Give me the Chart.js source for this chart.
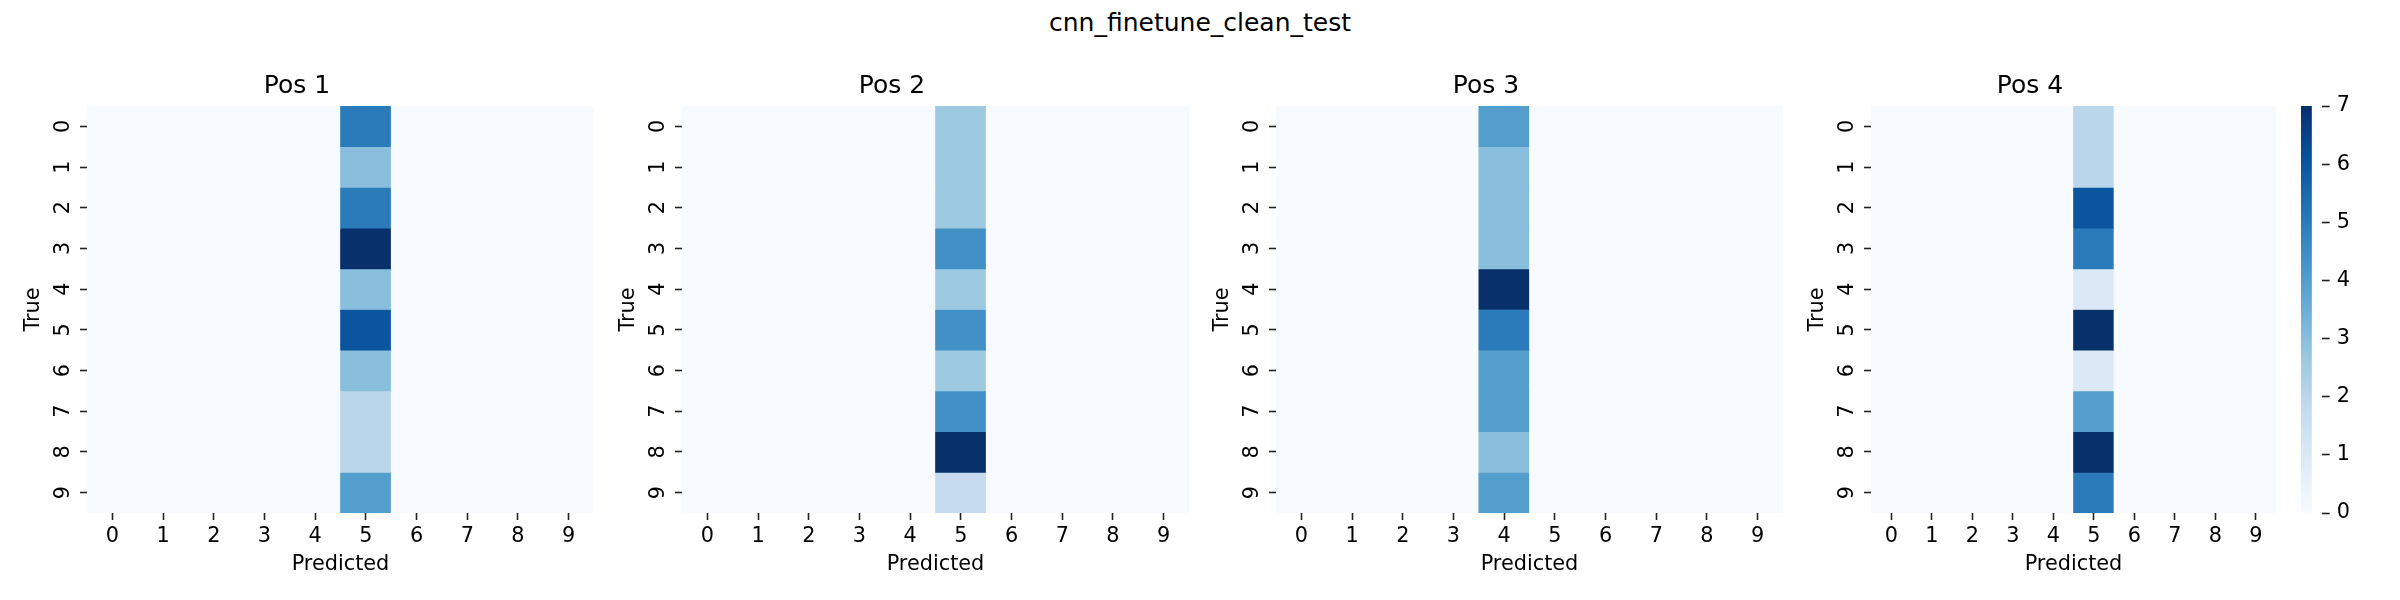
<!DOCTYPE html>
<html>
<head>
<meta charset="utf-8">
<script src="https://cdn.jsdelivr.net/npm/chart.js@4.4.0/dist/chart.umd.min.js"></script>
<style>
  html, body { margin: 0; background: #fff; }
  #fig { position: relative; width: 2400px; height: 600px; overflow: hidden; background: #fff; }
  #fig canvas { position: absolute; top: 0; }
  #suptitle { position: absolute; left: 0; top: 10px; width: 2400px; text-align: center;
              font: 25px/25px 'DejaVu Sans', sans-serif; color: #000; white-space: nowrap; }
</style>
</head>
<body>
<div id="fig">
  <div id="suptitle">cnn_finetune_clean_test</div>
</div>
<script>
// Classes (true / predicted)
const classes = ['0', '1', '2', '3', '4', '5', '6', '7', '8', '9'];

// Confusion matrices, rows = true, columns = predicted
const pos1 = [
  [0, 0, 0, 0, 0, 5, 0, 0, 0, 0],
  [0, 0, 0, 0, 0, 3, 0, 0, 0, 0],
  [0, 0, 0, 0, 0, 5, 0, 0, 0, 0],
  [0, 0, 0, 0, 0, 7, 0, 0, 0, 0],
  [0, 0, 0, 0, 0, 3, 0, 0, 0, 0],
  [0, 0, 0, 0, 0, 6, 0, 0, 0, 0],
  [0, 0, 0, 0, 0, 3, 0, 0, 0, 0],
  [0, 0, 0, 0, 0, 2, 0, 0, 0, 0],
  [0, 0, 0, 0, 0, 2, 0, 0, 0, 0],
  [0, 0, 0, 0, 0, 4, 0, 0, 0, 0]
];
const pos2 = [
  [0, 0, 0, 0, 0, 3, 0, 0, 0, 0],
  [0, 0, 0, 0, 0, 3, 0, 0, 0, 0],
  [0, 0, 0, 0, 0, 3, 0, 0, 0, 0],
  [0, 0, 0, 0, 0, 5, 0, 0, 0, 0],
  [0, 0, 0, 0, 0, 3, 0, 0, 0, 0],
  [0, 0, 0, 0, 0, 5, 0, 0, 0, 0],
  [0, 0, 0, 0, 0, 3, 0, 0, 0, 0],
  [0, 0, 0, 0, 0, 5, 0, 0, 0, 0],
  [0, 0, 0, 0, 0, 8, 0, 0, 0, 0],
  [0, 0, 0, 0, 0, 2, 0, 0, 0, 0]
];
const pos3 = [
  [0, 0, 0, 0, 4, 0, 0, 0, 0, 0],
  [0, 0, 0, 0, 3, 0, 0, 0, 0, 0],
  [0, 0, 0, 0, 3, 0, 0, 0, 0, 0],
  [0, 0, 0, 0, 3, 0, 0, 0, 0, 0],
  [0, 0, 0, 0, 7, 0, 0, 0, 0, 0],
  [0, 0, 0, 0, 5, 0, 0, 0, 0, 0],
  [0, 0, 0, 0, 4, 0, 0, 0, 0, 0],
  [0, 0, 0, 0, 4, 0, 0, 0, 0, 0],
  [0, 0, 0, 0, 3, 0, 0, 0, 0, 0],
  [0, 0, 0, 0, 4, 0, 0, 0, 0, 0]
];
const pos4 = [
  [0, 0, 0, 0, 0, 2, 0, 0, 0, 0],
  [0, 0, 0, 0, 0, 2, 0, 0, 0, 0],
  [0, 0, 0, 0, 0, 6, 0, 0, 0, 0],
  [0, 0, 0, 0, 0, 5, 0, 0, 0, 0],
  [0, 0, 0, 0, 0, 1, 0, 0, 0, 0],
  [0, 0, 0, 0, 0, 7, 0, 0, 0, 0],
  [0, 0, 0, 0, 0, 1, 0, 0, 0, 0],
  [0, 0, 0, 0, 0, 4, 0, 0, 0, 0],
  [0, 0, 0, 0, 0, 7, 0, 0, 0, 0],
  [0, 0, 0, 0, 0, 5, 0, 0, 0, 0]
];

const panelTitles = ['Pos 1', 'Pos 2', 'Pos 3', 'Pos 4'];
const matrices = [pos1, pos2, pos3, pos4];

// Layout (pixels): heatmap boxes
const PLOT_LEFT = [87, 682, 1276, 1871];
const PLOT_WIDTH = [507, 507, 507, 405];
const PLOT_TOP = 106;
const PLOT_BOTTOM = 513;
const Y_AXIS_W = 87;
const CBAR_LEFT = 2301;
const CBAR_W = 21;

const FONT = 'DejaVu Sans';
const TICK_FONT = { family: FONT, size: 20.8 };
const TICK_COLOR = '#222';

// matplotlib "Blues"
const BLUES = ['#f7fbff', '#deebf7', '#c6dbef', '#9ecae1', '#6baed6',
               '#4292c6', '#2171b5', '#08519c', '#08306b'];

function hexRgb(h) {
  return [parseInt(h.slice(1, 3), 16), parseInt(h.slice(3, 5), 16), parseInt(h.slice(5, 7), 16)];
}

function blues(t) {
  t = Math.max(0, Math.min(1, t));
  const idx = Math.min(255, Math.floor(t * 256));
  const s = (idx / 255) * 8;
  const i = Math.min(7, Math.floor(s));
  const f = s - i;
  const a = hexRgb(BLUES[i]), b = hexRgb(BLUES[i + 1]);
  const c = a.map((v, k) => Math.round(v + (b[k] - v) * f));
  return 'rgb(' + c.join(',') + ')';
}

Chart.defaults.font.family = FONT;
Chart.defaults.color = '#000';

const fig = document.getElementById('fig');

function addCanvas(left, width) {
  const cv = document.createElement('canvas');
  cv.width = width;
  cv.height = 600;
  cv.style.left = left + 'px';
  cv.style.width = width + 'px';
  cv.style.height = '600px';
  fig.appendChild(cv);
  return cv;
}

function tickGrid(len) {
  return {
    display: true,
    drawOnChartArea: false,
    drawTicks: true,
    tickLength: len,
    tickWidth: 1.6,
    tickColor: TICK_COLOR,
    offset: false
  };
}

matrices.forEach((matrix, p) => {
  const vmax = Math.max(...matrix.flat());
  const vmin = Math.min(...matrix.flat());
  const cv = addCanvas(PLOT_LEFT[p] - Y_AXIS_W, Y_AXIS_W + PLOT_WIDTH[p]);

  const datasets = matrix.map((row, r) => ({
    label: classes[r],
    data: row.map(() => [r - 0.5, r + 0.5]),
    backgroundColor: row.map(v => blues((v - vmin) / (vmax - vmin))),
    borderWidth: 0,
    barPercentage: 1,
    categoryPercentage: 1,
    grouped: false
  }));

  new Chart(cv, {
    type: 'bar',
    data: { labels: classes, datasets: datasets },
    options: {
      responsive: false,
      animation: false,
      devicePixelRatio: 1,
      events: [],
      layout: { padding: { top: 71, bottom: 0, left: 0, right: 0 } },
      plugins: {
        legend: { display: false },
        tooltip: { enabled: false },
        title: {
          display: true,
          text: panelTitles[p],
          color: '#000',
          font: { family: FONT, size: 25, weight: 'normal' },
          padding: { top: 0, bottom: 5 }
        }
      },
      scales: {
        x: {
          type: 'category',
          offset: true,
          grid: tickGrid(7),
          border: { display: false },
          ticks: { font: TICK_FONT, color: '#000', padding: 4.5, maxRotation: 0, minRotation: 0 },
          title: {
            display: true, text: 'Predicted', color: '#000',
            font: TICK_FONT, padding: { top: 0, bottom: 22.5 }
          },
          afterFit: s => { s.height = 600 - PLOT_BOTTOM; }
        },
        y: {
          type: 'linear',
          min: -0.5,
          max: 9.5,
          reverse: true,
          grid: tickGrid(7),
          border: { display: false },
          afterBuildTicks: s => { s.ticks = classes.map((_, i) => ({ value: i })); },
          ticks: {
            font: TICK_FONT, color: '#000', padding: 10,
            minRotation: 90, maxRotation: 90, crossAlign: 'center',
            callback: v => classes[v]
          },
          title: {
            display: true, text: 'True', color: '#000',
            font: TICK_FONT, padding: { top: 21, bottom: 0 }
          },
          afterFit: s => { s.width = Y_AXIS_W; }
        }
      }
    }
  });
});

// Colorbar for the last panel
const lastMatrix = matrices[matrices.length - 1];
const cbMax = Math.max(...lastMatrix.flat());
const cbMin = Math.min(...lastMatrix.flat());
const cbTicks = [];
for (let v = cbMin; v <= cbMax; v++) cbTicks.push(v);

const cbCanvas = addCanvas(CBAR_LEFT, 2400 - CBAR_LEFT);
new Chart(cbCanvas, {
  type: 'bar',
  data: {
    labels: [''],
    datasets: [{
      data: [[cbMin, cbMax]],
      borderWidth: 0,
      barPercentage: 1,
      categoryPercentage: 1,
      backgroundColor: ctx => {
        const area = ctx.chart.chartArea;
        if (!area) return BLUES[4];
        const g = ctx.chart.ctx.createLinearGradient(0, area.bottom, 0, area.top);
        BLUES.forEach((c, i) => g.addColorStop(i / (BLUES.length - 1), c));
        return g;
      }
    }]
  },
  options: {
    responsive: false,
    animation: false,
    devicePixelRatio: 1,
    events: [],
    layout: { padding: { top: PLOT_TOP, bottom: 600 - PLOT_BOTTOM, left: 0, right: 0 } },
    plugins: { legend: { display: false }, tooltip: { enabled: false } },
    scales: {
      x: { display: false, offset: false },
      y: {
        position: 'right',
        min: cbMin,
        max: cbMax,
        grid: tickGrid(7.7),
        border: { display: false },
        afterBuildTicks: s => { s.ticks = cbTicks.map(v => ({ value: v })); },
        ticks: { font: TICK_FONT, color: '#000', padding: 7 },
        afterFit: s => { s.width = 2400 - CBAR_LEFT - CBAR_W; }
      }
    }
  }
});
</script>
</body>
</html>
